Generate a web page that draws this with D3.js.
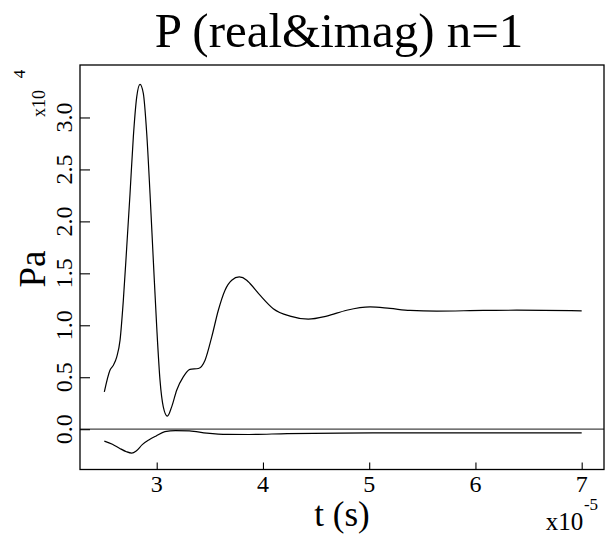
<!DOCTYPE html>
<html>
<head>
<meta charset="utf-8">
<script src="https://cdn.jsdelivr.net/npm/d3@7"></script>
<style>
  body { margin: 0; background: #fff; }
  svg { display: block; }
</style>
</head>
<body>
<svg id="chart" width="609" height="536"></svg>
<script>
// time in units of 1e-5 s, pressure in units of 1e4 Pa
const tReal = [2.507, 2.560, 2.592, 2.624, 2.655, 2.686, 2.718, 2.749, 2.780, 2.812,
               2.843, 2.874, 2.906, 2.937, 2.968, 3.000, 3.031, 3.062, 3.100, 3.141,
               3.188, 3.250, 3.313, 3.392, 3.455, 3.518, 3.580, 3.643, 3.706, 3.777,
               3.847, 3.878, 3.972, 4.097, 4.255, 4.427, 4.600, 4.788, 5.008, 5.196,
               5.384, 5.635, 6.074, 6.388, 7.000];
const pReal = [0.359, 0.568, 0.616, 0.696, 0.857, 1.242, 1.755, 2.268, 2.813, 3.198,
               3.318, 3.231, 2.846, 2.268, 1.627, 0.985, 0.472, 0.215, 0.125, 0.215,
               0.375, 0.503, 0.575, 0.584, 0.664, 0.888, 1.145, 1.338, 1.434, 1.466,
               1.434, 1.402, 1.290, 1.160, 1.088, 1.059, 1.088, 1.145, 1.177, 1.162,
               1.143, 1.136, 1.143, 1.145, 1.139];

const tImag = [2.507, 2.583, 2.649, 2.715, 2.765, 2.807, 2.864, 2.929, 2.995, 3.077,
               3.176, 3.308, 3.472, 3.669, 3.867, 4.229, 4.722, 5.381, 6.200, 7.000];
const pImag = [-0.115, -0.145, -0.183, -0.217, -0.230, -0.210, -0.149, -0.102, -0.065, -0.024,
               -0.014, -0.017, -0.038, -0.050, -0.051, -0.042, -0.037, -0.036, -0.036, -0.036];

const xTicks = [3, 4, 5, 6, 7];
const yTicks = [0, 0.5, 1, 1.5, 2, 2.5, 3];

const serif = "Liberation Serif, Times, Noto Serif, DejaVu Serif, FreeSerif, serif";
const svg = d3.select("#chart").style("font-family", serif);

// plot box
const boxLeft = 80, boxRight = 604, boxTop = 65, boxBottom = 469.5;

const x = d3.scaleLinear().domain([2.278, 7.21]).range([boxLeft, boxRight]);
const y = d3.scaleLinear().domain([-0.388, 3.505]).range([boxBottom, boxTop]);

// zero line
svg.append("line")
    .attr("x1", boxLeft).attr("x2", boxRight)
    .attr("y1", y(0)).attr("y2", y(0))
    .attr("stroke", "#444").attr("stroke-width", 1.3);

// curves
const line = d3.line()
    .x(d => x(d[0]))
    .y(d => y(d[1]))
    .curve(d3.curveMonotoneX);

svg.append("path")
    .attr("d", line(d3.zip(tReal, pReal)))
    .attr("fill", "none").attr("stroke", "#000").attr("stroke-width", 1.2);

svg.append("path")
    .attr("d", line(d3.zip(tImag, pImag)))
    .attr("fill", "none").attr("stroke", "#000").attr("stroke-width", 1.2);

// axes with inward ticks, labels drawn separately
svg.append("g")
    .attr("transform", `translate(0,${boxBottom})`)
    .call(d3.axisBottom(x).tickValues(xTicks).tickSize(-7).tickFormat(""))
    .call(g => g.select(".domain").remove())
    .call(g => g.selectAll(".tick line").attr("stroke", "#000").attr("stroke-width", 1.1));

svg.append("g")
    .attr("transform", `translate(${boxLeft},0)`)
    .call(d3.axisLeft(y).tickValues(yTicks).tickSize(-10).tickFormat(""))
    .call(g => g.select(".domain").remove())
    .call(g => g.selectAll(".tick line").attr("stroke", "#000").attr("stroke-width", 1.1));

// box
svg.append("rect")
    .attr("x", boxLeft).attr("y", boxTop)
    .attr("width", boxRight - boxLeft).attr("height", boxBottom - boxTop)
    .attr("fill", "none").attr("stroke", "#000").attr("stroke-width", 1.3);

// tick labels
svg.selectAll(".xlab").data(xTicks).join("text")
    .attr("class", "xlab")
    .attr("x", d => x(d)).attr("y", 492)
    .attr("text-anchor", "middle").attr("font-size", 24)
    .text(d => d);

svg.selectAll(".ylab").data(yTicks).join("text")
    .attr("class", "ylab")
    .attr("transform", d => `translate(72,${y(d)}) rotate(-90)`)
    .attr("text-anchor", "middle").attr("font-size", 24)
    .text(d => d.toFixed(1));

// title
svg.append("text")
    .attr("x", 339).attr("y", 46.5)
    .attr("text-anchor", "middle").attr("font-size", 49)
    .text("P (real&imag) n=1");

// axis titles
svg.append("text")
    .attr("x", 342).attr("y", 526)
    .attr("text-anchor", "middle").attr("font-size", 35)
    .text("t (s)");

svg.append("text")
    .attr("transform", "translate(45,269) rotate(-90)")
    .attr("text-anchor", "middle").attr("font-size", 37)
    .text("Pa");

// multipliers
svg.append("text")
    .attr("transform", "translate(45,103.5) rotate(-90)")
    .attr("text-anchor", "middle").attr("font-size", 18)
    .text("x10");
svg.append("text")
    .attr("transform", "translate(25,74) rotate(-90)")
    .attr("text-anchor", "middle").attr("font-size", 17)
    .text("4");

svg.append("text")
    .attr("x", 564.5).attr("y", 530)
    .attr("text-anchor", "middle").attr("font-size", 25)
    .text("x10");
svg.append("text")
    .attr("x", 591).attr("y", 510)
    .attr("text-anchor", "middle").attr("font-size", 17)
    .text("-5");
</script>
</body>
</html>
